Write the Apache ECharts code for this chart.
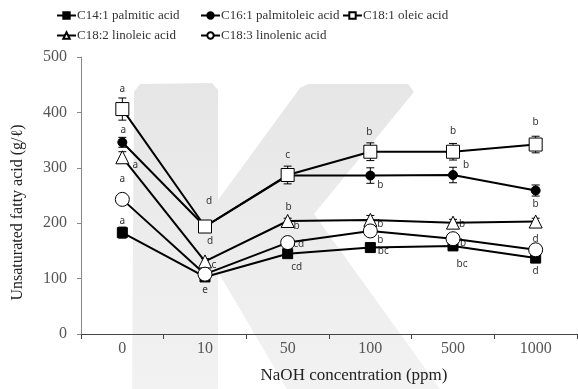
<!DOCTYPE html>
<html>
<head>
<meta charset="utf-8">
<script src="https://cdn.jsdelivr.net/npm/echarts@6/dist/echarts.min.js"></script>
<style>
  html, body { margin: 0; padding: 0; background: #fff; }
  #chart { width: 578px; height: 389px; }
</style>
</head>
<body>
<div id="chart"></div>
<script>
// NaOH concentration (ppm)
const categories = ['0', '10', '50', '100', '500', '1000'];

const seriesNames = [
  'C14:1 palmitic acid',
  'C16:1 palmitoleic acid',
  'C18:1 oleic acid',
  'C18:2 linoleic acid',
  'C18:3 linolenic acid'
];

// mean values (g/ℓ)
const c14Values = [183, 103, 145, 156, 159, 137];
const c16Values = [346, 194, 286, 286, 287, 259];
const c181Values = [406, 194, 287, 329, 329, 342];
const c182Values = [319, 131, 204, 206, 201, 203];
const c183Values = [243, 108, 165, 186, 172, 152];

// error bar half-widths
const c14Errors = [10, 3, 4, 5, 5, 5];
const c16Errors = [9, 4, 4, 14, 14, 10];
const c181Errors = [20, 5, 16, 16, 15, 15];
const c182Errors = [10, 5, 5, 8, 6, 6];
const c183Errors = [8, 5, 8, 8, 6, 6];

// significance letters ('|' separates two letters on one point)
const c14Letters = ['a', '', 'cd', 'bc', 'bc', 'd'];
const c16Letters = ['a', 'd', '', 'b', 'b', 'b'];
const c181Letters = ['a', 'd', 'c', 'b', 'b', 'b'];
const c182Letters = ['a', 'c', 'b|b', 'b', 'b', ''];
const c183Letters = ['a', 'e', 'cd', 'b', 'b', 'd'];

// letter offsets from the point, in px (style only)
const c14Offsets = [[[0, -11]], [], [[9, 13]], [[13, 4]], [[9, 18]], [[0, 13]]];
const c16Offsets = [[[1, -12]], [[5, 15]], [], [[10, 10]], [[13, -10]], [[0, 14]]];
const c181Offsets = [[[0, -20]], [[4, -25]], [[0, -20]], [[-1, -20]], [[0, -21]], [[0, -22]]];
const c182Offsets = [[[13, 8]], [[9, 4]], [[1, -14], [9, 5]], [[10, 4]], [[9, 2]], []];
const c183Offsets = [[[0, -20]], [[0, 16]], [[11, 2]], [[10, 9]], [[10, 4]], [[0, -11]]];

const groups = [
  { name: seriesNames[0], values: c14Values, errors: c14Errors, letters: c14Letters, offsets: c14Offsets,
    symbol: 'rect', size: 10, fill: '#000' },
  { name: seriesNames[1], values: c16Values, errors: c16Errors, letters: c16Letters, offsets: c16Offsets,
    symbol: 'circle', size: 9, fill: '#000' },
  { name: seriesNames[2], values: c181Values, errors: c181Errors, letters: c181Letters, offsets: c181Offsets,
    symbol: 'rect', size: 13, fill: '#fff' },
  { name: seriesNames[3], values: c182Values, errors: c182Errors, letters: c182Letters, offsets: c182Offsets,
    symbol: 'triangle', size: 13, fill: '#fff' },
  { name: seriesNames[4], values: c183Values, errors: c183Errors, letters: c183Letters, offsets: c183Offsets,
    symbol: 'circle', size: 14, fill: '#fff' }
];

const serif = '"Liberation Serif", "DejaVu Serif", serif';

const chart = echarts.init(document.getElementById('chart'), null, { renderer: 'canvas' });

const series = [];
groups.forEach(function (g) {
  // error bars and letters
  series.push({
    type: 'custom',
    name: g.name + ' err',
    z: 1,
    silent: true,
    data: g.values.map(function (v, i) { return [i, v, g.errors[i]]; }),
    renderItem: function (params, api) {
      const i = api.value(0);
      const v = api.value(1);
      const e = api.value(2);
      const p = api.coord([i, v]);
      const hi = api.coord([i, v + e]);
      const lo = api.coord([i, v - e]);
      const cap = 4;
      const ls = { stroke: '#000', lineWidth: 1 };
      const children = [
        { type: 'line', shape: { x1: p[0], y1: hi[1], x2: p[0], y2: lo[1] }, style: ls },
        { type: 'line', shape: { x1: p[0] - cap, y1: hi[1], x2: p[0] + cap, y2: hi[1] }, style: ls },
        { type: 'line', shape: { x1: p[0] - cap, y1: lo[1], x2: p[0] + cap, y2: lo[1] }, style: ls }
      ];
      const txt = g.letters[params.dataIndex];
      if (txt) {
        txt.split('|').forEach(function (t, k) {
          const off = g.offsets[params.dataIndex][k];
          children.push({
            type: 'text',
            x: p[0] + off[0],
            y: p[1] + off[1],
            style: {
              text: t,
              fill: '#333',
              font: '10px "Noto Sans", "DejaVu Sans", sans-serif',
              align: 'center',
              verticalAlign: 'middle'
            }
          });
        });
      }
      return { type: 'group', children: children };
    }
  });
  series.push({
    type: 'line',
    name: g.name,
    z: 3,
    data: g.values,
    symbol: g.symbol,
    symbolSize: g.size,
    showAllSymbol: true,
    lineStyle: { color: '#000', width: 2 },
    itemStyle: { color: g.fill, borderColor: '#000', borderWidth: 1 },
    emphasis: { disabled: true }
  });
});

const legendLeft = [56, 200, 342, 56, 200];
const legendTop = [9, 9, 9, 29, 29];
const legends = seriesNames.map(function (n, i) {
  return {
    data: [n],
    left: legendLeft[i],
    top: legendTop[i],
    itemWidth: 19,
    itemHeight: 8,
    padding: 0,
    textStyle: { fontFamily: serif, fontSize: 13, color: '#333', padding: [0, 0, 0, -4] },
    selectedMode: false
  };
});

chart.setOption({
  animation: false,
  backgroundColor: '#fff',
  graphic: [{
    type: 'polygon',
    z: -10,
    silent: true,
    shape: {
      points: [[132, 389], [134, 92], [140, 84], [212, 83], [218, 90], [218, 200], [300, 88], [308, 84],
               [408, 84], [414, 92], [314, 214], [440, 389], [287, 389], [218, 272], [218, 389]]
    },
    style: {
      fill: {
        type: 'linear', x: 0, y: 0, x2: 0, y2: 1,
        colorStops: [{ offset: 0, color: '#e6e6e6' }, { offset: 1, color: '#f2f2f2' }]
      }
    }
  }],
  legend: legends,
  grid: { left: 81, right: 1, top: 57, bottom: 50, containLabel: false },
  xAxis: {
    type: 'category',
    data: categories,
    boundaryGap: true,
    name: 'NaOH concentration (ppm)',
    nameLocation: 'middle',
    nameGap: 33,
    nameTextStyle: { fontFamily: serif, fontSize: 17, color: '#222', padding: [0, 0, 0, 50] },
    axisLine: { lineStyle: { color: '#444', width: 1 } },
    axisTick: { show: true, length: 5, alignWithLabel: false, lineStyle: { color: '#444' } },
    axisLabel: { fontFamily: serif, fontSize: 16, color: '#555', margin: 7 },
    splitLine: { show: false }
  },
  yAxis: {
    type: 'value',
    min: 0,
    max: 500,
    interval: 100,
    name: 'Unsaturated fatty acid (g/ℓ)',
    nameLocation: 'middle',
    nameGap: 55,
    nameTextStyle: { fontFamily: serif, fontSize: 16, color: '#222', padding: [0, 34, 0, 0] },
    axisLine: { show: true, lineStyle: { color: '#888', width: 1 } },
    axisTick: { show: true, length: 4, lineStyle: { color: '#888' } },
    axisLabel: { fontFamily: serif, fontSize: 16, color: '#555', margin: 14 },
    splitLine: { show: false }
  },
  series: series
});
</script>
</body>
</html>
